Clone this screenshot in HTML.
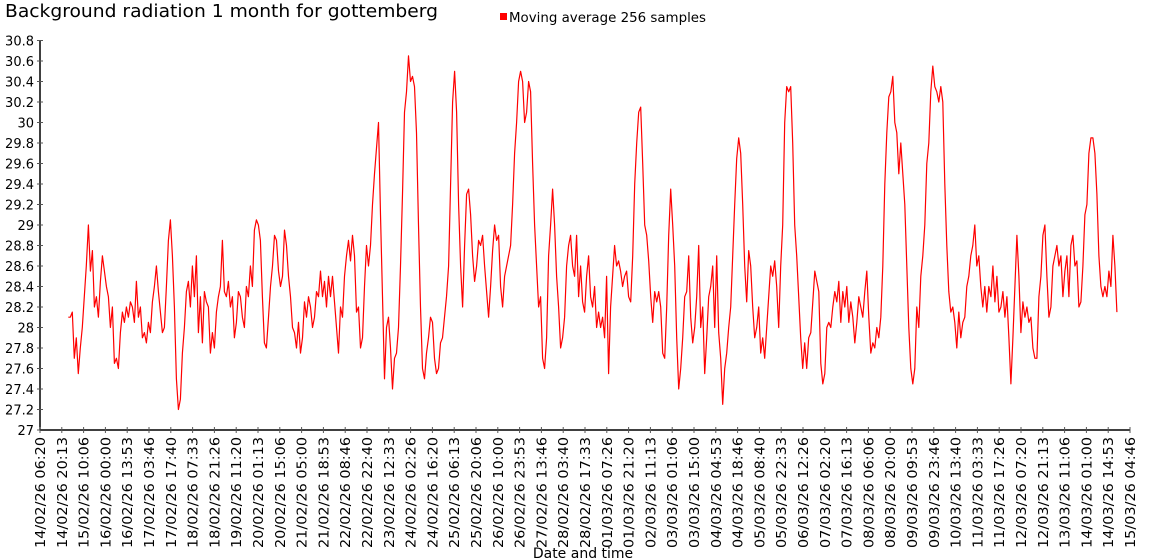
<!DOCTYPE html>
<html><head><meta charset="utf-8"><style>
html,body{margin:0;padding:0;background:#fff;}
svg{display:block;font-family:"DejaVu Sans","Liberation Sans",sans-serif;}
</style></head><body>
<svg id="chart" width="1150" height="560" viewBox="0 0 1150 560">
<text x="5" y="17" font-size="18" textLength="433" lengthAdjust="spacingAndGlyphs" fill="#000">Background radiation 1 month for gottemberg</text>
<g><rect x="500" y="13" width="7" height="7" fill="#ff0000"/><text x="509" y="22" font-size="13" textLength="197" lengthAdjust="spacingAndGlyphs" fill="#000">Moving average 256 samples</text></g>
<text x="583" y="558" font-size="14" text-anchor="middle" fill="#000">Date and time</text>
<g id="yaxis"></g>
<g id="xaxis"></g>
<g id="series"></g>
</svg>
<script>
const yTicks=["27","27.2","27.4","27.6","27.8","28","28.2","28.4","28.6","28.8","29","29.2","29.4","29.6","29.8","30","30.2","30.4","30.6","30.8"];
const xLabels=["14/02/26 06:20","14/02/26 20:13","15/02/26 10:06","16/02/26 00:00","16/02/26 13:53","17/02/26 03:46","17/02/26 17:40","18/02/26 07:33","18/02/26 21:26","19/02/26 11:20","20/02/26 01:13","20/02/26 15:06","21/02/26 05:00","21/02/26 18:53","22/02/26 08:46","22/02/26 22:40","23/02/26 12:33","24/02/26 02:26","24/02/26 16:20","25/02/26 06:13","25/02/26 20:06","26/02/26 10:00","26/02/26 23:53","27/02/26 13:46","28/02/26 03:40","28/02/26 17:33","01/03/26 07:26","01/03/26 21:20","02/03/26 11:13","03/03/26 01:06","03/03/26 15:00","04/03/26 04:53","04/03/26 18:46","05/03/26 08:40","05/03/26 22:33","06/03/26 12:26","07/03/26 02:20","07/03/26 16:13","08/03/26 06:06","08/03/26 20:00","09/03/26 09:53","09/03/26 23:46","10/03/26 13:40","11/03/26 03:33","11/03/26 17:26","12/03/26 07:20","12/03/26 21:13","13/03/26 11:06","14/03/26 01:00","14/03/26 14:53","15/03/26 04:46"];
const seriesStart=1.3; // in tick units, first sample position
const seriesEnd=49.4;
const values=[28.1,28.1,28.15,27.7,27.9,27.55,27.8,28.0,28.3,28.6,29.0,28.55,28.75,28.2,28.3,28.1,28.45,28.7,28.55,28.4,28.3,28.0,28.2,27.65,27.7,27.6,27.95,28.15,28.05,28.2,28.1,28.25,28.2,28.05,28.45,28.1,28.2,27.9,27.95,27.85,28.05,27.95,28.25,28.4,28.6,28.35,28.15,27.95,28.0,28.4,28.85,29.05,28.7,28.2,27.5,27.2,27.3,27.75,28.0,28.35,28.45,28.2,28.6,28.3,28.7,27.95,28.3,27.85,28.35,28.25,28.2,27.75,27.95,27.8,28.15,28.3,28.4,28.85,28.35,28.3,28.45,28.2,28.3,27.9,28.05,28.35,28.3,28.1,28.0,28.4,28.3,28.6,28.4,28.95,29.05,29.0,28.85,28.3,27.85,27.8,28.1,28.4,28.6,28.9,28.85,28.55,28.4,28.5,28.95,28.8,28.5,28.3,28.0,27.95,27.8,28.05,27.75,27.9,28.25,28.1,28.3,28.2,28.0,28.1,28.35,28.3,28.55,28.3,28.45,28.2,28.5,28.3,28.5,28.25,28.0,27.75,28.2,28.1,28.5,28.7,28.85,28.65,28.9,28.7,28.15,28.2,27.8,27.9,28.4,28.8,28.6,28.8,29.2,29.5,29.75,30.0,29.1,28.3,27.5,28.0,28.1,27.8,27.4,27.7,27.75,28.0,28.6,29.3,30.1,30.3,30.65,30.4,30.45,30.35,29.9,29.0,28.2,27.6,27.5,27.75,27.9,28.1,28.05,27.7,27.55,27.6,27.85,27.9,28.1,28.3,28.6,29.4,30.2,30.5,30.1,29.2,28.6,28.2,28.8,29.3,29.35,29.1,28.7,28.45,28.6,28.85,28.8,28.9,28.6,28.35,28.1,28.4,28.75,29.0,28.85,28.9,28.4,28.2,28.5,28.6,28.7,28.8,29.2,29.7,30.0,30.4,30.5,30.4,30.0,30.1,30.4,30.3,29.6,29.0,28.6,28.2,28.3,27.7,27.6,27.9,28.7,29.0,29.35,29.0,28.5,28.2,27.8,27.9,28.1,28.6,28.8,28.9,28.6,28.5,28.9,28.3,28.6,28.25,28.15,28.5,28.7,28.3,28.2,28.4,28.0,28.15,28.0,28.1,27.9,28.5,27.55,28.2,28.5,28.8,28.6,28.65,28.55,28.4,28.5,28.55,28.3,28.25,28.7,29.4,29.8,30.1,30.15,29.6,29.0,28.9,28.65,28.3,28.05,28.35,28.25,28.35,28.2,27.75,27.7,28.2,28.9,29.35,29.0,28.6,27.9,27.4,27.6,27.9,28.3,28.35,28.7,28.1,27.85,28.0,28.3,28.8,28.0,28.2,27.55,27.9,28.3,28.4,28.6,28.0,28.7,27.95,27.7,27.25,27.6,27.75,28.0,28.2,28.7,29.2,29.65,29.85,29.7,29.2,28.6,28.25,28.75,28.6,28.2,27.9,28.0,28.2,27.75,27.9,27.7,28.0,28.3,28.6,28.5,28.65,28.4,28.0,28.6,29.0,30.0,30.35,30.3,30.35,29.8,29.0,28.7,28.3,27.9,27.6,27.85,27.6,27.9,27.95,28.25,28.55,28.45,28.35,27.65,27.45,27.55,28.0,28.05,28.0,28.2,28.35,28.25,28.45,28.05,28.35,28.2,28.4,28.05,28.25,28.1,27.85,28.05,28.3,28.2,28.1,28.35,28.55,28.1,27.75,27.85,27.8,28.0,27.9,28.1,28.6,29.4,29.9,30.25,30.3,30.45,30.0,29.9,29.5,29.8,29.5,29.2,28.6,28.0,27.6,27.45,27.6,28.2,28.0,28.5,28.7,29.0,29.6,29.8,30.3,30.55,30.35,30.3,30.2,30.35,30.2,29.4,28.8,28.35,28.15,28.2,28.05,27.8,28.15,27.9,28.05,28.1,28.4,28.5,28.7,28.8,29.0,28.6,28.7,28.4,28.2,28.4,28.15,28.4,28.3,28.6,28.25,28.5,28.15,28.2,28.35,28.1,28.3,27.9,27.45,27.9,28.4,28.9,28.5,27.95,28.25,28.1,28.2,28.05,28.1,27.8,27.7,27.7,28.3,28.5,28.9,29.0,28.5,28.1,28.2,28.6,28.7,28.8,28.6,28.7,28.3,28.55,28.7,28.3,28.8,28.9,28.6,28.65,28.2,28.25,28.6,29.1,29.2,29.7,29.85,29.85,29.7,29.3,28.7,28.4,28.3,28.4,28.3,28.55,28.4,28.9,28.6,28.15];

const NS="http://www.w3.org/2000/svg";
const X0=40, X1=1130, Y0=430, Y1=40.5, VMIN=27, VMAX=30.8;
const nTicks=xLabels.length-1;
function xScale(t){return X0+(X1-X0)*t/nTicks;}
function yScale(v){return Y0-(v-VMIN)/(VMAX-VMIN)*(Y0-Y1);}
function mk(tag,attrs,parent){const e=document.createElementNS(NS,tag);for(const k in attrs)e.setAttribute(k,attrs[k]);parent.appendChild(e);return e;}

const ya=document.getElementById('yaxis');
const yl=mk('line',{x1:X0,y1:Y0,x2:X0,y2:Y1,stroke:'#000','stroke-width':1.5},ya);


yTicks.forEach(s=>{
  const y=yScale(parseFloat(s));
  const tk=mk('line',{x1:X0-3,y1:y,x2:X0+3,y2:y,stroke:'#555','stroke-width':1},ya);
  
  
  const tx=mk('text',{x:X0-6,y:y+5,'font-size':13,'text-anchor':'end',fill:'#000'},ya);
  tx.textContent=s;
  
  
});

const xa=document.getElementById('xaxis');
const xl=mk('line',{x1:X0,y1:Y0,x2:X1,y2:Y0,stroke:'#000','stroke-width':1.5},xa);


xLabels.forEach((s,i)=>{
  const x=xScale(i);
  const tk=mk('line',{x1:x,y1:Y0-3,x2:x,y2:Y0+3,stroke:'#555','stroke-width':1},xa);
  
  
  const tx=mk('text',{x:0,y:0,'font-size':13,'text-anchor':'end',fill:'#000',textLength:111,lengthAdjust:'spacingAndGlyphs',transform:'translate('+(x+5)+',437) rotate(-90)'},xa);
  tx.textContent=s;
  
  
});

const sg=document.getElementById('series');
const n=values.length;
const pts=values.map((v,i)=>{const t=seriesStart+(seriesEnd-seriesStart)*i/(n-1);return xScale(t).toFixed(1)+','+yScale(v).toFixed(1);}).join(' ');
const pl=mk('polyline',{points:pts,fill:'none',stroke:'#ff0000','stroke-width':1.2,'stroke-linejoin':'round'},sg);


</script>
</body></html>
